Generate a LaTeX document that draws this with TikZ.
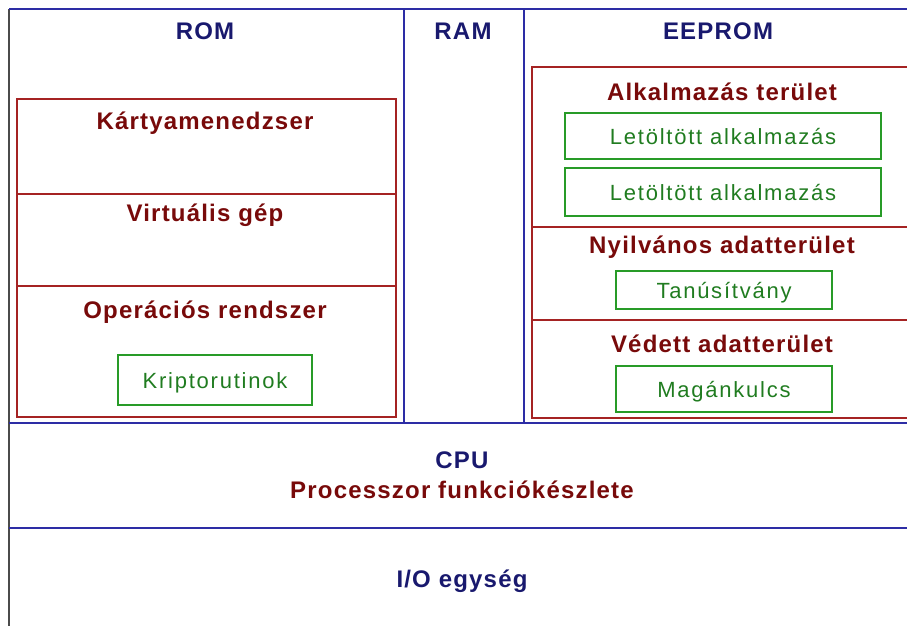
\documentclass[tikz,border=0pt]{standalone}
\usepackage{fontspec}
\setmainfont{Liberation Sans}
\newfontfamily\lblfont[LetterSpace=5]{Liberation Sans}
\newfontfamily\boxfont[LetterSpace=8]{Liberation Sans}
\definecolor{cardnavy}{RGB}{25,25,110}
\definecolor{cardblue}{RGB}{45,45,165}
\definecolor{cardred}{RGB}{165,35,35}
\definecolor{cardmaroon}{RGB}{120,10,10}
\definecolor{cardgreen}{RGB}{40,155,40}
\definecolor{cardgray}{RGB}{75,75,75}

\begin{document}
\begin{tikzpicture}[x=1pt, y=-1pt,
  bus/.style={draw=cardblue, line width=1.8pt},
  area/.style={draw=cardred, line width=1.8pt},
  title/.style={anchor=base, inner sep=0pt, text=cardnavy,
    font=\lblfont\fontsize{24}{28}\selectfont\bfseries},
  part/.style={anchor=base, inner sep=0pt, text=cardmaroon,
    font=\lblfont\fontsize{24}{28}\selectfont\bfseries},
  module/.style={rectangle, draw=cardgreen, line width=2pt,
    text=cardgreen!80!black, inner sep=0pt,
    text height=16pt, text depth=0pt,
    font=\boxfont\fontsize{22}{26}\selectfont}
]
\useasboundingbox (0,0) rectangle (907,626);
\clip (0,0) rectangle (907,626);

% Outer frame and memory columns
\draw[cardgray, line width=2pt] (9,9) -- (9,626);
\draw[bus] (9,9) -- (907,9);
\draw[bus] (404,9) -- (404,423);
\draw[bus] (524,9) -- (524,423);
\draw[bus] (9,423) -- (907,423);
\draw[bus] (9,528) -- (907,528);

\node[title] (rom) at (205,40) {ROM};
\node[title] (ram) at (463,40) {RAM};
\node[title] (eeprom) at (718,40) {EEPROM};

% ROM: layers
\draw[area] (17,99) rectangle (396,417);
\draw[area] (17,194) -- (396,194);
\draw[area] (17,286) -- (396,286);

\node[part] (cardmgr) at (205,129) {Kártyamenedzser};
\node[part] (vm) at (205,221) {Virtuális gép};
\node[part] (os) at (205,318) {Operációs rendszer};
\node[module, minimum width=194pt, minimum height=50pt] (crypto)
  at (215,380) {Kriptorutinok};

% EEPROM: areas
\draw[area] (910,67) -- (532,67) -- (532,418) -- (910,418);
\draw[area] (532,227) -- (910,227);
\draw[area] (532,320) -- (910,320);

\node[part] (apparea) at (722,100) {Alkalmazás terület};
\node[module, minimum width=316pt, minimum height=46pt] (app1)
  at (723,136) {Letöltött alkalmazás};
\node[module, minimum width=316pt, minimum height=48pt] (app2)
  at (723,192) {Letöltött alkalmazás};
\node[part] (pubarea) at (722,253) {Nyilvános adatterület};
\node[module, minimum width=216pt, minimum height=38pt] (cert)
  at (724,290) {Tanúsítvány};
\node[part] (protarea) at (722,352) {Védett adatterület};
\node[module, minimum width=216pt, minimum height=46pt] (privkey)
  at (724,389) {Magánkulcs};

% CPU and I/O
\node[title] (cpu) at (462,468) {CPU};
\node[part] (isa) at (462,498) {Processzor funkciókészlete};
\node[title] (io) at (462,587) {I/O egység};
\end{tikzpicture}
\end{document}
